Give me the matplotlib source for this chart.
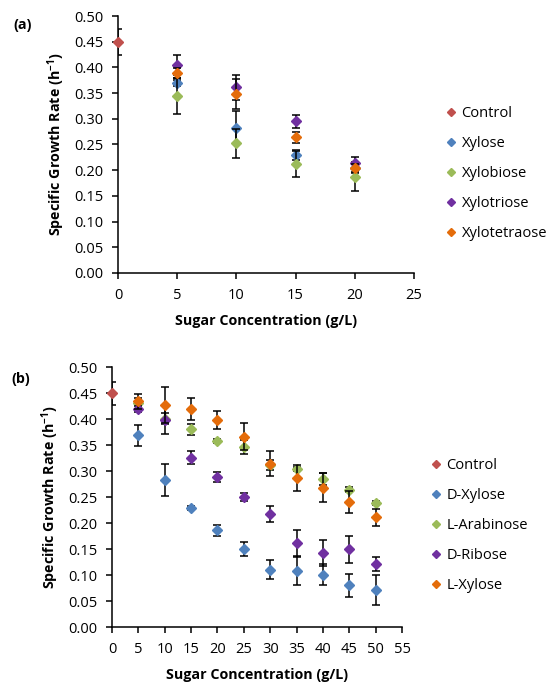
import matplotlib
matplotlib.use('Agg')
import matplotlib.pyplot as plt

plt.rcParams['font.family'] = ['Open Sans', 'DejaVu Sans']
plt.rcParams['mathtext.fontset'] = 'custom'
plt.rcParams['mathtext.rm'] = 'Open Sans'
plt.rcParams['mathtext.bf'] = 'Open Sans:bold'

# panel (a) data
conc_a = [5, 10, 15, 20]
names_a = ['Xylose', 'Xylobiose', 'Xylotriose', 'Xylotetraose']
rate_a = [
    [0.369, 0.283, 0.229, 0.205],
    [0.345, 0.252, 0.212, 0.187],
    [0.405, 0.361, 0.295, 0.214],
    [0.389, 0.348, 0.264, 0.204],
]
err_a = [
    [0.006, 0.033, 0.010, 0.010],
    [0.035, 0.029, 0.025, 0.027],
    [0.019, 0.024, 0.013, 0.012],
    [0.010, 0.029, 0.011, 0.008],
]

# panel (b) data
conc_b = [5, 10, 15, 20, 25, 30, 35, 40, 45, 50]
names_b = ['D-Xylose', 'L-Arabinose', 'D-Ribose', 'L-Xylose']
rate_b = [
    [0.369, 0.283, 0.229, 0.186, 0.150, 0.110, 0.108, 0.101, 0.080, 0.071],
    [0.430, 0.401, 0.380, 0.358, 0.346, 0.312, 0.304, 0.285, 0.264, 0.238],
    [0.419, 0.398, 0.326, 0.289, 0.250, 0.217, 0.161, 0.143, 0.150, 0.121],
    [0.434, 0.427, 0.420, 0.398, 0.366, 0.314, 0.287, 0.268, 0.241, 0.211],
]
err_b = [
    [0.020, 0.031, 0.004, 0.010, 0.013, 0.018, 0.028, 0.020, 0.022, 0.029],
    [0.010, 0.010, 0.010, 0.004, 0.013, 0.010, 0.004, 0.012, 0.005, 0.004],
    [0.006, 0.027, 0.012, 0.010, 0.007, 0.015, 0.026, 0.025, 0.026, 0.014],
    [0.014, 0.034, 0.021, 0.018, 0.026, 0.024, 0.025, 0.028, 0.021, 0.016],
]

control_rate = 0.45
control_err = [0.025, 0.022]

control_color = '#C0504D'
colors = ['#4F81BD', '#9BBB59', '#7030A0', '#E46C0A']


def draw_panel(ax, conc, names, rates, errs, c_err, xmax):
    ax.errorbar([0], [control_rate], yerr=[c_err], fmt='none', ecolor='black',
                elinewidth=1.1, capsize=3, capthick=1.1, zorder=2)
    ax.plot([0], [control_rate], 'D', color=control_color, markersize=5.3,
            label='Control', clip_on=False, zorder=3)
    for i in range(len(names)):
        ax.errorbar(conc, rates[i], yerr=errs[i], fmt='none', ecolor='black',
                    elinewidth=1.1, capsize=3, capthick=1.1, zorder=2 + 2 * (i + 1))
        ax.plot(conc, rates[i], 'D', color=colors[i], markersize=5.3,
                label=names[i], clip_on=False, zorder=3 + 2 * (i + 1))
    ax.set_xlim(0, xmax)
    ax.set_ylim(0, 0.5)
    ax.set_xticks(range(0, xmax + 1, 5))
    ax.set_yticks([i * 0.05 for i in range(11)])
    ax.set_yticklabels(['%.2f' % (i * 0.05) for i in range(11)])
    ax.spines['top'].set_visible(False)
    ax.spines['right'].set_visible(False)
    ax.spines['left'].set_linewidth(1.1)
    ax.spines['bottom'].set_linewidth(1.1)
    ax.tick_params(direction='out', length=4.5, width=1.1, pad=6, labelsize=10.5)
    ax.set_xlabel('Sugar Concentration (g/L)', fontsize=10.3, fontweight='bold', labelpad=8)
    ax.set_ylabel(r'Specific Growth Rate (h$^{\mathbf{-1}}$)', fontsize=10.3,
                  fontweight='bold', labelpad=5)


fig = plt.figure(figsize=(5.54, 6.84), dpi=100)

ax1 = fig.add_axes([0.213, 0.6009, 0.534, 0.3757])
draw_panel(ax1, conc_a, names_a, rate_a, err_a, control_err[0], 25)
ax1.legend(loc='center left', bbox_to_anchor=(0.804, 0.7463), bbox_transform=fig.transFigure,
           frameon=False, fontsize=10.5, handlelength=0.8, handletextpad=0.3,
           labelspacing=1.02, borderpad=0, borderaxespad=0, markerscale=0.85)

ax2 = fig.add_axes([0.2022, 0.0833, 0.5235, 0.380])
draw_panel(ax2, conc_b, names_b, rate_b, err_b, control_err[1], 55)
ax2.legend(loc='center left', bbox_to_anchor=(0.7767, 0.2317), bbox_transform=fig.transFigure,
           frameon=False, fontsize=10.5, handlelength=0.8, handletextpad=0.3,
           labelspacing=1.02, borderpad=0, borderaxespad=0, markerscale=0.85)

fig.text(0.025, 1 - 25 / 684, '(a)', fontsize=10.3, fontweight='bold', va='center')
fig.text(0.021, 1 - 379 / 684, '(b)', fontsize=10.3, fontweight='bold', va='center')

plt.savefig('out.png', dpi=100)
